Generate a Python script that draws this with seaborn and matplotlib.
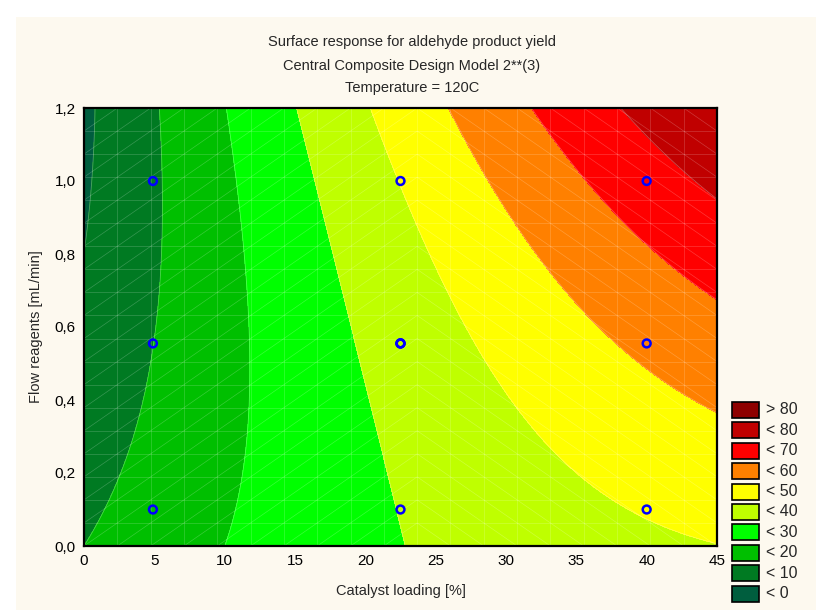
import numpy as np
import pandas as pd
import matplotlib
matplotlib.use("Agg")
import matplotlib.pyplot as plt
from matplotlib.patches import Rectangle
from matplotlib.collections import LineCollection
import seaborn as sns

# ---------------- data ----------------
# fitted response-surface coefficients (read from the contour positions)
# yield = b0 + bx*x + by*y + bxx*x^2 + byy*y^2 + bxy*x*y
coef_names = ["b0", "bx", "by", "bxx", "byy", "bxy"]
coef_values = [10.0, 1.095, -17.8, -0.0096, 6.67, 0.96]

# design points (catalyst loading %, flow mL/min); centre point replicated
design_catalyst = [4.9, 4.9, 4.9, 22.5, 22.5, 22.5, 22.5, 22.5, 40.0, 40.0, 40.0]
design_flow = [0.10, 0.555, 1.00, 0.10, 0.555, 0.555, 0.555, 1.00, 0.10, 0.555, 1.00]

contour_levels = [-1000, 0, 10, 20, 30, 40, 50, 60, 70, 80, 1000]
level_colors = ["#005E3E", "#007A22", "#00BF00", "#00FF00", "#BFFF00",
                "#FFFF00", "#FF8000", "#FF0000", "#C00000", "#8E0000"]
legend_labels = ["< 0", "< 10", "< 20", "< 30", "< 40",
                 "< 50", "< 60", "< 70", "< 80", "> 80"]

x_ticks = [0, 5, 10, 15, 20, 25, 30, 35, 40, 45]
y_ticks = [0.0, 0.2, 0.4, 0.6, 0.8, 1.0, 1.2]
y_tick_labels = ["0,0", "0,2", "0,4", "0,6", "0,8", "1,0", "1,2"]

title_lines = ["Surface response for aldehyde product yield",
               "Central Composite Design Model 2**(3)",
               "Temperature = 120C"]
x_label = "Catalyst loading [%]"
y_label = "Flow reagents [mL/min]"

# ---------------- style ----------------
sns.set_style("white")
plt.rcParams["font.family"] = ["Liberation Sans", "DejaVu Sans"]

W, H = 816, 610
fig = plt.figure(figsize=(W / 100, H / 100), dpi=100, facecolor="white")
bg = "#FDF9EF"
fig.add_artist(Rectangle((16 / W, 0), 1 - 16 / W, 1 - 17 / H,
                         transform=fig.transFigure, facecolor=bg,
                         edgecolor="none", zorder=-10))

ax = fig.add_axes([84 / W, 1 - 546 / H, (717 - 84) / W, (546 - 108) / H])

# surface
c = dict(zip(coef_names, coef_values))
gx = np.linspace(0, 45, 400)
gy = np.linspace(0, 1.2, 400)
X, Y = np.meshgrid(gx, gy)
Z = (c["b0"] + c["bx"] * X + c["by"] * Y + c["bxx"] * X ** 2
     + c["byy"] * Y ** 2 + c["bxy"] * X * Y)

ax.contourf(X, Y, Z, levels=contour_levels, colors=level_colors, zorder=1)
ax.contour(X, Y, Z, levels=contour_levels[1:-1], colors="white",
           linewidths=0.6, alpha=0.3, zorder=2)

# faint triangulated mesh
nodes_x = np.linspace(0, 45, 20)
nodes_y = np.linspace(0, 1.2, 20)
segs = []
for xv in nodes_x:
    segs.append([(xv, 0), (xv, 1.2)])
for yv in nodes_y:
    segs.append([(0, yv), (45, yv)])
for i in range(19):
    for j in range(19):
        x0, x1 = nodes_x[i], nodes_x[i + 1]
        y0, y1 = nodes_y[j], nodes_y[j + 1]
        if i < 10:
            segs.append([(x0, y0), (x1, y1)])
        else:
            segs.append([(x0, y1), (x1, y0)])
ax.add_collection(LineCollection(segs, colors="white", linewidths=0.5,
                                 alpha=0.22, zorder=3))

# design points
pts = pd.DataFrame({"catalyst": design_catalyst, "flow": design_flow})
sns.scatterplot(data=pts, x="catalyst", y="flow", ax=ax, marker="o", s=32,
                facecolor="none", edgecolor="#0000FF", linewidth=1.8,
                zorder=5, legend=False)

ax.set_xlim(0, 45)
ax.set_ylim(0, 1.2)
ax.set_xticks(x_ticks)
ax.set_xticklabels([str(v) for v in x_ticks])
ax.set_yticks(y_ticks)
ax.set_yticklabels(y_tick_labels)
ax.tick_params(direction="in", length=5, width=1.3, top=True, right=True,
               labelsize=11, colors="black", pad=6)
for s in ax.spines.values():
    s.set_color("black")
    s.set_linewidth(1.6)
    s.set_zorder(6)
ax.set_xlabel(x_label, fontsize=10.5, labelpad=11)
ax.set_ylabel(y_label, fontsize=10.5, labelpad=8)

# titles
for line, ypx in zip(title_lines, [42, 66, 88]):
    fig.text(412 / W, 1 - ypx / H, line, ha="center", va="center",
             fontsize=10.5)

# legend (drawn top to bottom: > 80 ... < 0)
rows = list(zip(level_colors, legend_labels))[::-1]
for k, (col, lab) in enumerate(rows):
    ytop = 402 + k * 20.4
    fig.add_artist(Rectangle((732 / W, 1 - (ytop + 16) / H), 27 / W, 16 / H,
                             transform=fig.transFigure, facecolor=col,
                             edgecolor="black", linewidth=1.2))
    fig.text(766 / W, 1 - (ytop + 8) / H, lab, ha="left", va="center",
             fontsize=11.5)

fig.savefig("out.png", dpi=100, facecolor=fig.get_facecolor())
